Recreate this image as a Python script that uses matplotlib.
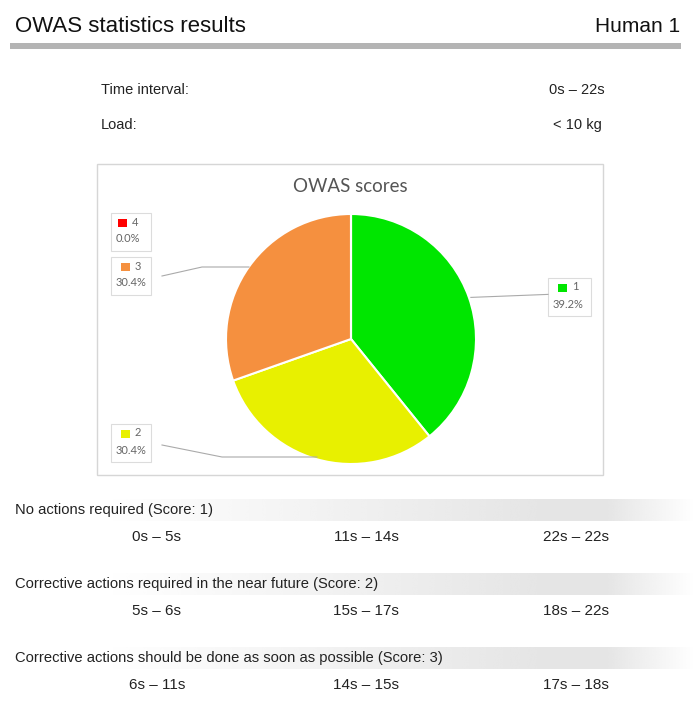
import numpy as np
import matplotlib
matplotlib.use("Agg")
import matplotlib.pyplot as plt
from matplotlib.patches import Rectangle

# OWAS summary for one worker
title = "OWAS statistics results"
subject = "Human 1"
info_labels = ["Time interval:", "Load:"]
info_values = ["0s \u2013 22s", "< 10 kg"]

scores = ["1", "2", "3", "4"]
shares = [39.2, 30.4, 30.4, 0.0]
score_colors = ["#00e600", "#e8f000", "#f5903f", "#ff0000"]

sections = [
    "No actions required (Score: 1)",
    "Corrective actions required in the near future (Score: 2)",
    "Corrective actions should be done as soon as possible (Score: 3)",
]
intervals = [
    ["0s \u2013 5s", "11s \u2013 14s", "22s \u2013 22s"],
    ["5s \u2013 6s", "15s \u2013 17s", "18s \u2013 22s"],
    ["6s \u2013 11s", "14s \u2013 15s", "17s \u2013 18s"],
]

W, H = 695, 709
plt.rcParams["font.family"] = ["Liberation Sans", "DejaVu Sans"]
fig = plt.figure(figsize=(W / 100, H / 100), dpi=100)

# page layer in pixel coordinates
bg = fig.add_axes([0, 0, 1, 1], zorder=0)
bg.axis("off")

bg.text(15, 27, title, fontsize=16, va="center", ha="left", color="#111111")
bg.text(680, 27, subject, fontsize=15, va="center", ha="right", color="#111111")
bg.add_patch(Rectangle((10, 43), 671, 6, color="#b4b4b4", lw=0))

for i, (lab, val) in enumerate(zip(info_labels, info_values)):
    y = 90 + i * 35
    bg.text(101, y, lab, fontsize=10.5, va="center", ha="left", color="#222222")
    bg.text(577, y, val, fontsize=10.5, va="center", ha="center", color="#222222")

# chart frame
bg.add_patch(Rectangle((97, 164), 506, 311, fill=False, ec="#d6d6d6", lw=1))
bg.text(350, 187, "OWAS scores", fontsize=13.5, family=["Lato", "DejaVu Sans"],
        va="center", ha="center", color="#555555")

# section headers with faded grey band
grad = np.linspace(0, 1, 256)
grad = np.clip(grad * 1.6 - 0.25, 0, 1) * np.clip((1 - grad) * 8, 0, 1)
rgba = np.zeros((1, 256, 4))
rgba[..., :3] = 0.80
rgba[0, :, 3] = grad * 0.5
head_y = [510, 584, 658]
for y, head, row in zip(head_y, sections, intervals):
    bg.imshow(rgba, extent=(0, W, y + 11, y - 11), aspect="auto",
              interpolation="bicubic", zorder=0)
    bg.text(15, y, head, fontsize=10.6, va="center", ha="left", color="#222222", zorder=2)
    for x, t in zip([157, 366, 576], row):
        bg.text(x, y + 27, t, fontsize=11, va="center", ha="center",
                color="#222222", zorder=2)
bg.set_xlim(0, W)
bg.set_ylim(H, 0)

# pie
cx, cy, r = 351, 339, 125
pax = fig.add_axes([(cx - r) / W, (H - cy - r) / H, 2 * r / W, 2 * r / H], zorder=1)
wedges, _ = pax.pie(shares, colors=score_colors, startangle=90, counterclock=False,
                    wedgeprops=dict(edgecolor="white", linewidth=1.5))
pax.set_xlim(-1, 1)
pax.set_ylim(-1, 1)
pax.set_aspect("equal")

# labels on top layer
ov = fig.add_axes([0, 0, 1, 1], zorder=2)
ov.set_xlim(0, W)
ov.set_ylim(H, 0)
ov.axis("off")

# label boxes: top-left corner, leader elbow point
boxes = {
    "4": ((111, 213), None),
    "3": ((111, 257), (202, 267)),
    "2": ((111, 424), (222, 457)),
    "1": ((548, 278), None),
}
for w, s, p, c in zip(wedges, scores, shares, score_colors):
    (bx, by), elbow = boxes[s]
    ov.add_patch(Rectangle((bx, by), 40 if s != "1" else 43, 38, fc="white",
                           ec="#dcdcdc", lw=0.8))
    sx = bx + 7 if s == "4" else bx + 10
    ov.add_patch(Rectangle((sx, by + 6), 9, 8, color=c, lw=0))
    ov.text(sx + 14, by + 9, s, fontsize=8, family=["Lato", "DejaVu Sans"],
            va="center", ha="left", color="#666666")
    ov.text(bx + 5, by + 26, f"{p:.1f}%", fontsize=8, family=["Lato", "DejaVu Sans"],
            va="center", ha="left", color="#666666")
    if p <= 0:
        continue
    mid = np.deg2rad((w.theta1 + w.theta2) / 2)
    ex, ey = cx + r * np.cos(mid), cy - r * np.sin(mid)
    if elbow is None:
        ov.plot([ex + 2, bx], [ey, ey - 3], color="#aaaaaa", lw=0.8)
    else:
        ov.plot([bx + 51, elbow[0], ex], [by + 19 if s == "3" else by + 21, elbow[1], elbow[1]],
                color="#aaaaaa", lw=0.8)

fig.savefig("out.png", dpi=100, facecolor="white")
